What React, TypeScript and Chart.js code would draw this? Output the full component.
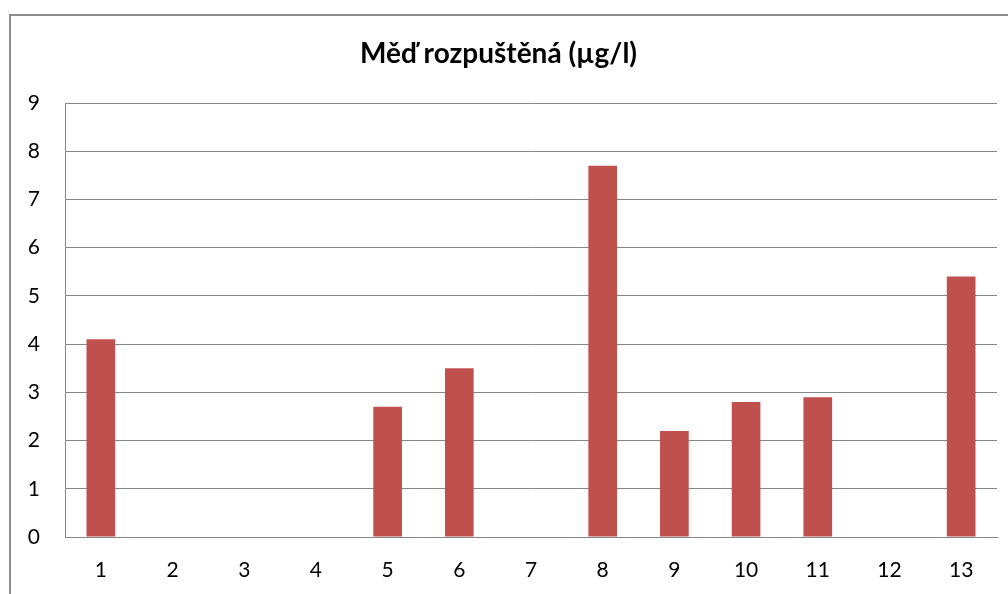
import React, { useEffect, useRef } from "react";
import { Chart, registerables } from "chart.js";

Chart.register(...registerables);

const categories = ["1", "2", "3", "4", "5", "6", "7", "8", "9", "10", "11", "12", "13"];
const copperValues: (number | null)[] = [4.1, null, null, null, 2.7, 3.5, null, 7.7, 2.2, 2.8, 2.9, null, 5.4];
const chartTitle = "Měď rozpuštěná (µg/l)";
const yMin = 0;
const yMax = 9;

export default function App() {
  const ref = useRef<HTMLCanvasElement | null>(null);

  useEffect(() => {
    if (!ref.current) return;
    const font = "Lato, 'Open Sans', sans-serif";
    const chart = new Chart(ref.current, {
      type: "bar",
      data: {
        labels: categories,
        datasets: [
          {
            label: chartTitle,
            data: copperValues,
            backgroundColor: "#C0504D",
            borderWidth: 0,
            categoryPercentage: 1,
            barPercentage: 0.4,
          },
        ],
      },
      options: {
        animation: false,
        responsive: false,
        maintainAspectRatio: false,
        layout: { padding: { left: 0, right: 11, top: 0, bottom: 0 } },
        plugins: {
          legend: { display: false },
          tooltip: { enabled: false },
          title: {
            display: true,
            text: chartTitle,
            color: "#000000",
            font: { family: font, size: 28, weight: "bold", lineHeight: 1.2 },
            padding: { top: 37, bottom: 32.4 },
          },
        },
        scales: {
          x: {
            grid: { display: false, drawTicks: false },
            border: { display: true, color: "#868686", width: 1 },
            ticks: { color: "#000000", font: { family: font, size: 21 }, padding: 21 },
            afterFit: (scale: any) => {
              scale.height = 57;
            },
          },
          y: {
            min: yMin,
            max: yMax,
            grid: { color: "#868686", lineWidth: 1, drawTicks: false },
            border: { display: true, color: "#868686", width: 1 },
            ticks: { stepSize: 1, color: "#000000", font: { family: font, size: 21 }, padding: 25 },
            afterFit: (scale: any) => {
              scale.width = 65;
            },
          },
        },
      },
    });
    return () => chart.destroy();
  }, []);

  return (
    <div style={{ position: "fixed", left: 0, top: 0, width: 1008, height: 594, background: "#fff", overflow: "hidden" }}>
      <div
        style={{
          position: "absolute",
          left: 9,
          top: 14,
          width: 1100,
          height: 700,
          borderLeft: "2px solid #8c8c8c",
          borderTop: "2px solid #8c8c8c",
          boxSizing: "border-box",
        }}
      />
      <canvas ref={ref} width={1008} height={594} style={{ position: "absolute", left: 0, top: 0 }} />
    </div>
  );
}
